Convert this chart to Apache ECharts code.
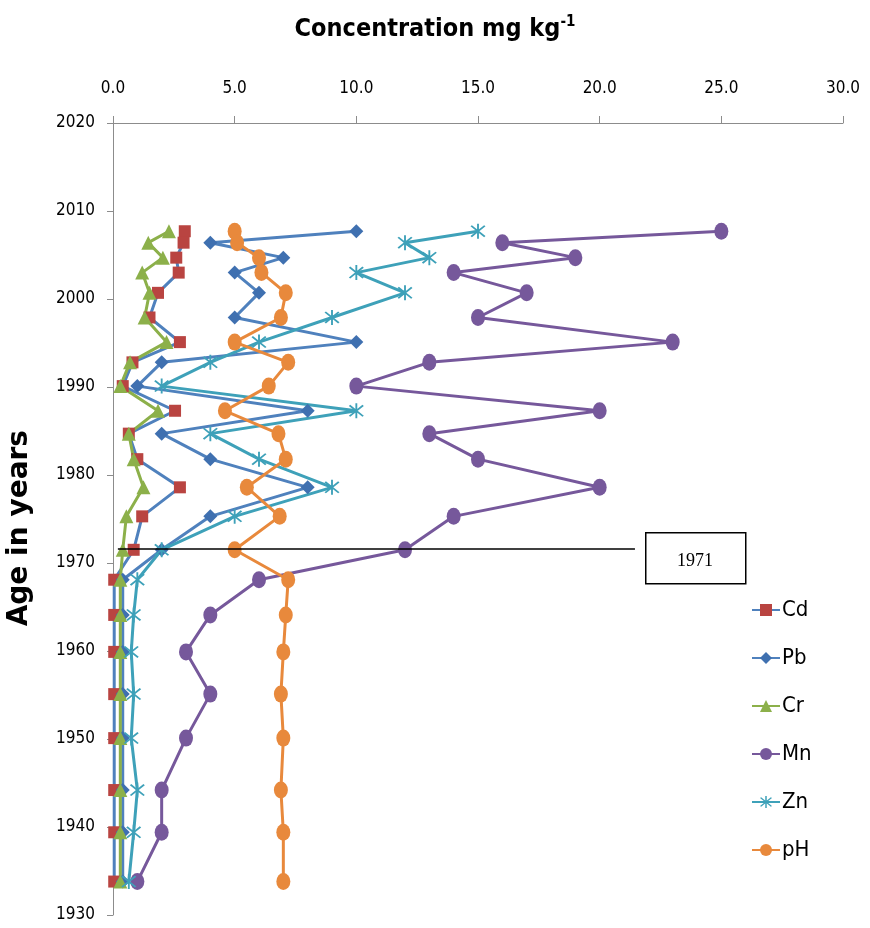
<!DOCTYPE html>
<html>
<head>
<meta charset="utf-8">
<script src="https://cdn.jsdelivr.net/npm/echarts@6/dist/echarts.min.js"></script>
<style>html,body{margin:0;padding:0;background:#fff}#c{width:870px;height:928px}</style>
</head>
<body>
<div id="c"></div>
<script>
const years = [2007.7, 2006.4, 2004.7, 2003.0, 2000.7, 1997.9, 1995.1, 1992.8, 1990.1, 1987.3, 1984.7, 1981.8, 1978.6, 1975.3, 1971.5, 1968.1, 1964.1, 1959.9, 1955.1, 1950.1, 1944.2, 1939.4, 1933.8];
const Cd = [2.95, 2.9, 2.6, 2.7, 1.85, 1.5, 2.75, 0.8, 0.4, 2.55, 0.65, 1.0, 2.75, 1.2, 0.85, 0.05, 0.05, 0.05, 0.05, 0.05, 0.05, 0.05, 0.05];
const Pb = [10, 4, 7, 5, 6, 5, 10, 2, 1, 8, 2, 4, 8, 4, 2, 0.4, 0.4, 0.4, 0.4, 0.4, 0.4, 0.4, 0.4];
const Cr = [2.3, 1.45, 2.05, 1.2, 1.5, 1.3, 2.2, 0.7, 0.3, 1.85, 0.65, 0.85, 1.25, 0.55, 0.4, 0.3, 0.3, 0.3, 0.3, 0.3, 0.3, 0.3, 0.3];
const Mn = [25, 16, 19, 14, 17, 15, 23, 13, 10, 20, 13, 15, 20, 14, 12, 6, 4, 3, 4, 3, 2, 2, 1];
const Zn = [15, 12, 13, 10, 12, 9, 6, 4, 2, 10, 4, 6, 9, 5, 2, 1.0, 0.85, 0.75, 0.85, 0.75, 1.0, 0.85, 0.65];
const pH = [5.0, 5.1, 6.0, 6.1, 7.1, 6.9, 5.0, 7.2, 6.4, 4.6, 6.8, 7.1, 5.5, 6.85, 5.0, 7.2, 7.1, 7.0, 6.9, 7.0, 6.9, 7.0, 7.0];
const markerYear = 1971.6;
const markerLabel = '1971';

const FONT = "'DejaVu Sans Condensed', 'Liberation Sans Narrow', sans-serif";
const star = 'path://M9,0L11,0L11,20L9,20Z M2,3.5L3.5,2L18,16.5L16.5,18Z M16.5,2L18,3.5L3.5,18L2,16.5Z';

function pairs(vals){ return vals.map((v,i)=>[v, years[i]]); }
function mk(name, vals, lineColor, sym, symColor, size){
  return {
    name, type:'line', data: pairs(vals), symbol: sym, symbolSize: size,
    showAllSymbol: true,
    lineStyle:{color: lineColor, width: 3},
    itemStyle:{color: symColor, borderWidth: 0},
    emphasis:{disabled:true}, z: 2
  };
}

const series = [
  mk('Cd', Cd, '#4f81bd', 'rect', '#b94441', 12),
  mk('Pb', Pb, '#4f81bd', 'diamond', '#3f70b0', 14),
  mk('Cr', Cr, '#8cb04a', 'triangle', '#8cb04a', 14),
  mk('Mn', Mn, '#76589b', 'circle', '#76589b', [14, 17]),
  mk('Zn', Zn, '#3ea1b9', star, '#3ea1b9', 15),
  mk('pH', pH, '#e8893c', 'circle', '#e8893c', [14, 17])
];
series[0].markLine = {
  silent: true, symbol: 'none', label: {show:false},
  lineStyle: {color:'#000', width: 1.5, type:'solid'},
  data: [[{coord:[0.2, markerYear]}, {coord:[21.45, markerYear]}]]
};

const chart = echarts.init(document.getElementById('c'));
chart.setOption({
  animation: false,
  backgroundColor: '#fff',
  grid: {left: 113, right: 27, top: 123, bottom: 13},
  title: {
    text: '{a|Concentration mg kg}{s|-1}',
    left: 'center', top: 10,
    textStyle: {
      rich: {
        a: {fontFamily: FONT, fontWeight: 'bold', fontSize: 25, color: '#000'},
        s: {fontFamily: FONT, fontWeight: 'bold', fontSize: 15, color: '#000', padding: [0,0,13,0]}
      }
    }
  },
  xAxis: {
    type: 'value', position: 'top', min: 0, max: 30, interval: 5,
    axisLine: {show: true, lineStyle: {color: '#8c8c8c', width: 1}},
    axisTick: {show: true, inside: false, length: 7, lineStyle: {color: '#8c8c8c'}},
    splitLine: {show: false},
    axisLabel: {margin: 26, fontFamily: FONT, fontSize: 17, color: '#000', formatter: v => v.toFixed(1)}
  },
  yAxis: {
    type: 'value', min: 1930, max: 2020, interval: 10,
    axisLine: {show: true, lineStyle: {color: '#8c8c8c', width: 1}},
    axisTick: {show: true, inside: false, length: 6, lineStyle: {color: '#8c8c8c'}},
    splitLine: {show: false},
    axisLabel: {margin: 18, fontFamily: FONT, fontSize: 17, color: '#000', formatter: v => String(v)}
  },
  legend: {
    orient: 'vertical', left: 746, top: 594, itemGap: 26, itemWidth: 28, itemHeight: 15,
    textStyle: {fontFamily: FONT, fontSize: 22, color: '#000', padding: [0,0,0,-3]},
    data: ['Cd','Pb','Cr','Mn','Zn','pH']
  },
  graphic: [
    {type: 'text', left: 6, top: 430, rotation: Math.PI/2,
     style: {text: 'Age in years', fontFamily: "'DejaVu Sans', Verdana, sans-serif", fontWeight: 'bold', fontSize: 28, fill: '#000'}},
    {type: 'rect', left: 645, top: 532, shape: {width: 100, height: 51},
     style: {fill: '#fff', stroke: '#000', lineWidth: 1.5}},
    {type: 'text', x: 695, y: 561, style: {text: markerLabel, fontFamily: "'Liberation Serif', 'DejaVu Serif', serif", fontSize: 18, fill: '#000', align: 'center', verticalAlign: 'middle'}}
  ],
  series
});
</script>
</body>
</html>
